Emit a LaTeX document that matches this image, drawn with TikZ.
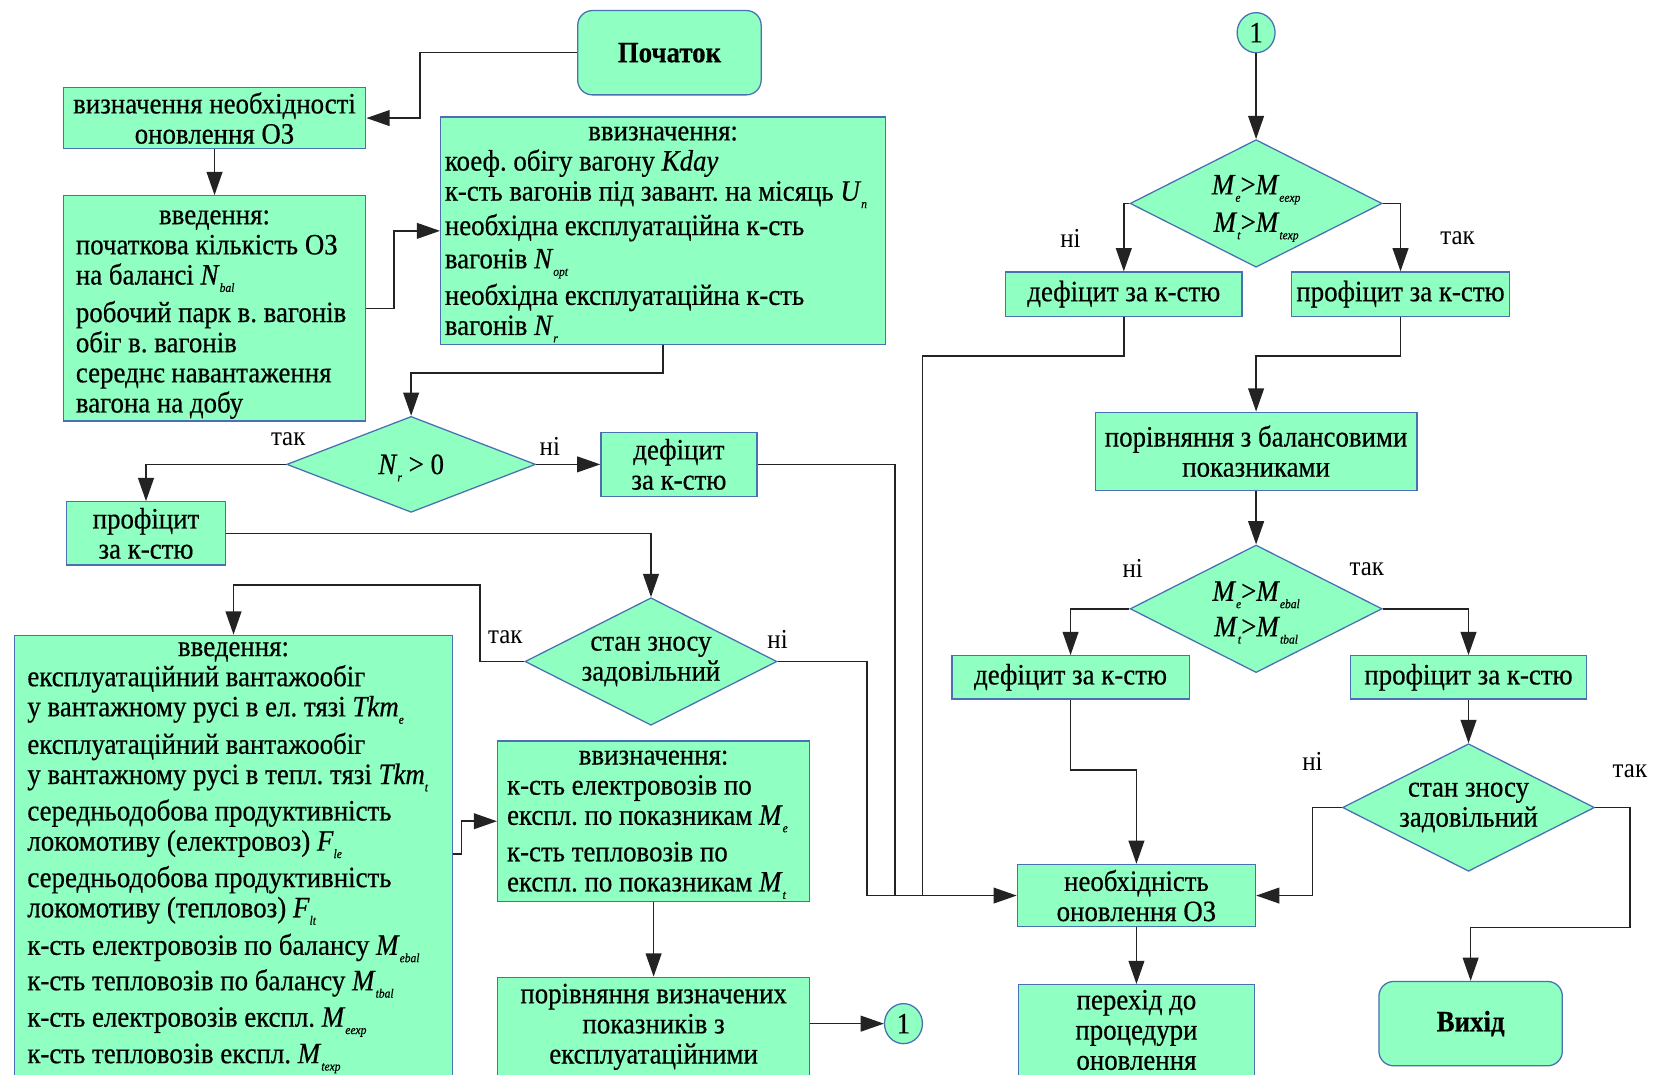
\documentclass[tikz,border=0pt]{standalone}
\usepackage{fontspec}
\setmainfont{Liberation Serif}[FakeStretch=0.91]
\newfontfamily\boxfont{Liberation Serif}[FakeStretch=0.91, FakeBold=0.5]
\usetikzlibrary{shapes.geometric, arrows.meta}

\definecolor{mint}{RGB}{144,255,194}
\definecolor{rim}{RGB}{72,112,178}
\definecolor{wire}{RGB}{35,35,35}
% italic symbol with a small lowered index
\newcommand{\ix}[2]{\textit{#1}\raisebox{-7pt}[0pt][0pt]{\fontsize{12}{12}\selectfont\textit{#2}}}
% centred heading line, as wide as the list under it
\newcommand{\ttl}[2]{\makebox[#1]{#2}}

\begin{document}
\frenchspacing
\begin{tikzpicture}[
        x=1pt, y=-1pt,
        every node/.style={font=\boxfont\fontsize{28}{28.6}\selectfont},
        box/.style={draw=rim, fill=mint, line width=1.2pt, inner sep=0pt, align=center},
        listbox/.style={box, align=left, inner ysep=2pt},
        term/.style={box, rounded corners=14pt, minimum width=174, minimum height=80},
        cond/.style={box, diamond, shape aspect=2, inner xsep=-25pt, inner ysep=-8pt,
            minimum width=239, minimum height=121},
        link/.style={box, ellipse, minimum width=36, minimum height=38},
        lbl/.style={inner sep=0pt, font=\rmfamily\fontsize{26}{26}\selectfont},
        wire/.style={draw=wire, line width=1.4pt},
        arr/.style={wire, -{Triangle[length=22pt, width=15pt]}}
    ]
    \useasboundingbox[fill=white] (0,0) rectangle (1568,1019);

    % Left column: wagons
    \node[term] (start) at (635,50) {\textbf{Початок}};
    \node[box, minimum width=287, minimum height=58] (needA) at (203.5,112)
        {визначення необхідності\\оновлення ОЗ};
    \node[listbox, inner xsep=12, minimum height=213] (inputA) at (203.5,292.5)
        {\ttl{263pt}{\rule{0pt}{25pt}введення:}\\початкова кількість ОЗ\\на балансі \ix{N}{bal}\\[7pt]робочий парк в. вагонів\\обіг в. вагонів\\середнє навантаження\\вагона на добу};
    \node[listbox, inner xsep=4, minimum height=216] (calcA) at (629,219)
        {\ttl{414pt}{ввизначення:}\\коеф. обігу вагону \textit{Kday}\\к-сть вагонів під завант. на місяць \ix{U}{n}\\[4pt]необхідна експлуатаційна к-сть\\[3pt]вагонів \ix{N}{opt}\\[6pt]необхідна експлуатаційна к-сть\\вагонів \ix{N}{r}};
    \node[cond, minimum width=236, minimum height=91] (condNr) at (390,440.5) {\ix{N}{r} > 0};
    \node[box, minimum width=148, minimum height=61] (deficitA) at (644,440.5) {дефіцит\\за к-стю};
    \node[box, minimum width=151, minimum height=60] (profitA) at (138.5,506) {профіцит\\за к-стю};
    \node[cond] (wearA) at (617.5,627.5) {стан зносу\\задовільний};

    % Left column: locomotives
    \node[listbox, anchor=north, inner xsep=12, inner ysep=6.5pt] (inputB) at (221.5,602)
        {\ttl{391pt}{введення:}\\експлуатаційний вантажообіг\\у вантажному русі в ел. тязі \ix{Tkm}{e}\\[7pt]експлуатаційний вантажообіг\\у вантажному русі в тепл. тязі \ix{Tkm}{t}\\[6pt]середньодобова продуктивність\\локомотиву (електровоз) \ix{F}{le}\\[6pt]середньодобова продуктивність\\локомотиву (тепловоз) \ix{F}{lt}\\[7pt]к-сть електровозів по балансу \ix{M}{ebal}\\[5pt]к-сть тепловозів по балансу \ix{M}{tbal}\\[6pt]к-сть електровозів експл. \ix{M}{eexp}\\[6pt]к-сть тепловозів експл. \ix{M}{texp}\rule[-24pt]{0pt}{0pt}};
    \node[listbox, inner xsep=9, minimum height=152] (calcB) at (620,779)
        {\ttl{278pt}{ввизначення:}\\к-сть електровозів по\\експл. по показникам \ix{M}{e}\\[6pt]к-сть тепловозів по\\експл. по показникам \ix{M}{t}};
    \node[box, minimum width=296, minimum height=94] (compareB) at (620,974)
        {порівняння визначених\\показників з\\експлуатаційними};
    \node[link] (linkA) at (857,971) {1};

    % Right column
    \node[link] (linkB) at (1191.5,31) {1};
    \node[cond] (condExp) at (1191.5,193) {\ix{M}{e}>\ix{M}{eexp}\\[7pt]\ix{M}{t}>\ix{M}{texp}};
    \node[box, minimum width=224, minimum height=42] (deficitB) at (1066,279) {дефіцит за к-стю};
    \node[box, minimum width=207, minimum height=42] (profitB) at (1328.5,279) {профіцит за к-стю};
    \node[box, minimum width=305, minimum height=74] (compareBal) at (1191.5,428)
        {порівняння з балансовими\\показниками};
    \node[cond] (condBal) at (1191.5,577.5) {\ix{M}{e}>\ix{M}{ebal}\\[5pt]\ix{M}{t}>\ix{M}{tbal}};
    \node[box, minimum width=225, minimum height=41] (deficitC) at (1015.5,642.5) {дефіцит за к-стю};
    \node[box, minimum width=224, minimum height=41] (profitC) at (1393,642.5) {профіцит за к-стю};
    \node[cond] (wearB) at (1393,766) {стан зносу\\задовільний};
    \node[box, minimum width=226, minimum height=59] (needB) at (1078,849.5) {необхідність\\оновлення ОЗ};
    \node[box, minimum width=224, minimum height=86] (goUpd) at (1078,977) {перехід до\\процедури\\оновлення};
    \node[term] (finish) at (1395,971) {\textbf{Вихід}};

    % junctions on the line into needB
    \coordinate (joinA) at (849,849.5);
    \coordinate (joinB) at (875,849.5);

    % Connectors, left part
    \draw[arr] (start.west) -- ++(-149,0) |- (needA.east);
    \draw[arr] (needA.south) -- (inputA.north);
    \draw[arr] (inputA.east) -- ++(26,0) |- (calcA.west);
    \draw[arr] (calcA.south) -- ++(0,26) -| (condNr.north);
    \draw[arr] (condNr.west) node[lbl, shift={(2,-24)}] (yesNr) {так} -| (profitA.north);
    \draw[arr] (condNr.east) node[lbl, shift={(13,-17)}] (noNr) {ні} -- (deficitA.west);
    \draw[wire] (deficitA.east) -| (joinA);
    \draw[arr] (profitA.east) -| (wearA.north);
    \draw[arr] (wearA.west) node[lbl, shift={(-18,-23)}] (yesWearA) {так}
        -- ++(-42,0) -- ++(0,-72.5) -| (inputB.north);
    \draw[arr] (wearA.east) node[lbl, shift={(0,-21)}] (noWearA) {ні} -- ++(85,0) |- (needB.west);
    \draw[arr] ([yshift=-208pt]inputB.north east) -- ++(8,0) |- (calcB.west);
    \draw[arr] (calcB.south) -- (compareB.north);
    \draw[arr] (compareB.east |- linkA.west) -- (linkA.west);

    % Connectors, right part
    \draw[arr] (linkB.south) -- (condExp.north);
    \draw[arr] (condExp.west) node[lbl, shift={(-56,33)}] (noExp) {ні} -| (deficitB.north);
    \draw[arr] (condExp.east) node[lbl, shift={(71,33)}] (yesExp) {так} -| (profitB.north);
    \draw[wire] (deficitB.south) -- ++(0,37) -| (joinB);
    \draw[arr] (profitB.south) -- ++(0,37) -| (compareBal.north);
    \draw[arr] (compareBal.south) -- (condBal.north);
    \draw[arr] (condBal.west) node[lbl, shift={(3,-38)}] (noBal) {ні} -| (deficitC.north);
    \draw[arr] (condBal.east) node[lbl, shift={(-15,-38)}] (yesBal) {так} -| (profitC.north);
    \draw[arr] (deficitC.south) -- ++(0,67) -| (needB.north);
    \draw[arr] (profitC.south) -- (wearB.north);
    \draw[arr] (wearB.west) node[lbl, shift={(-28,-44)}] (noWearB) {ні} -- ++(-28,0) |- (needB.east);
    \draw[arr] (wearB.east) node[lbl, shift={(33,-34)}] (yesWearB) {так}
        -- ++(33,0) -- ++(0,114) -| (finish.north);
    \draw[arr] (needB.south) -- (goUpd.north);
\end{tikzpicture}
\end{document}
